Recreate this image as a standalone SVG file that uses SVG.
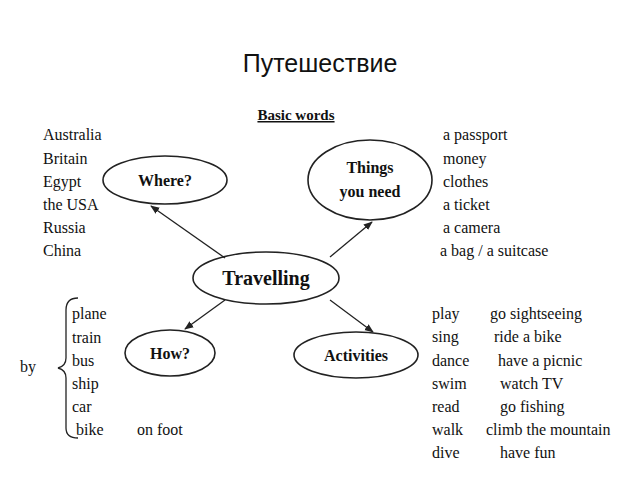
<svg xmlns="http://www.w3.org/2000/svg" width="640" height="480" viewBox="0 0 640 480">
<style>
text{font-family:"Liberation Serif","DejaVu Serif",serif;font-size:16px;fill:#111}
.b{font-weight:bold}
ellipse{fill:#fff;stroke:#222;stroke-width:1.6}
.c line{stroke:#222;stroke-width:1.3;marker-end:url(#a)}
</style>
<defs><marker id="a" viewBox="0 0 10 10" refX="9" refY="5" markerWidth="7" markerHeight="7" orient="auto"><path d="M0,1L10,5L0,9z" fill="#222"/></marker></defs>
<rect width="640" height="480" fill="#fff"/>
<text x="320" y="72" text-anchor="middle" style="font-family:'Liberation Sans',sans-serif;font-size:25px">Путешествие</text>
<text x="296" y="120" text-anchor="middle" class="b" style="font-size:15px;text-decoration:underline">Basic words</text>
<g id="where"><ellipse cx="165" cy="180" rx="62" ry="24"/><text x="165" y="186" text-anchor="middle" class="b">Where?</text></g>
<g id="things"><ellipse cx="370" cy="180" rx="62" ry="40"/><text x="370" y="173" text-anchor="middle" class="b">Things</text><text x="370" y="197" text-anchor="middle" class="b">you need</text></g>
<g id="travelling"><ellipse cx="266" cy="278" rx="73" ry="26"/><text x="266" y="285" text-anchor="middle" class="b" style="font-size:20px">Travelling</text></g>
<g id="how"><ellipse cx="170" cy="353" rx="45" ry="23"/><text x="170" y="359" text-anchor="middle" class="b">How?</text></g>
<g id="activities"><ellipse cx="356" cy="355" rx="62" ry="23"/><text x="356" y="361" text-anchor="middle" class="b">Activities</text></g>
<g class="c">
<line x1="225" y1="258" x2="151" y2="206"/>
<line x1="330" y1="257" x2="372" y2="222"/>
<line x1="225" y1="300" x2="185" y2="329"/>
<line x1="330" y1="300" x2="373" y2="332"/>
</g>
<g id="where-list"><text x="43" y="140">Australia</text><text x="43" y="164">Britain</text><text x="43" y="187">Egypt</text><text x="43" y="210">the USA</text><text x="43" y="233">Russia</text><text x="43" y="256">China</text></g>
<g id="things-list"><text x="443" y="140">a passport</text><text x="443" y="164">money</text><text x="443" y="187">clothes</text><text x="443" y="210">a ticket</text><text x="443" y="233">a camera</text><text x="440" y="256">a bag / a suitcase</text></g>
<g id="how-list">
<path d="M78,298 Q66,298 66,310 L66,358 Q66,366 58,368 Q66,370 66,378 L66,428 Q66,438 78,438" fill="none" stroke="#222" stroke-width="1.3"/>
<text x="20" y="372">by</text>
<text x="72" y="319">plane</text><text x="72" y="343">train</text><text x="72" y="366">bus</text><text x="72" y="389">ship</text><text x="72" y="412">car</text><text x="76" y="435">bike</text><text x="137" y="435">on foot</text></g>
<g id="activities-list">
<text x="432" y="319">play</text><text x="490" y="319">go sightseeing</text>
<text x="432" y="342">sing</text><text x="494" y="342">ride a bike</text>
<text x="432" y="366">dance</text><text x="498" y="366">have a picnic</text>
<text x="432" y="389">swim</text><text x="500" y="389">watch TV</text>
<text x="432" y="412">read</text><text x="500" y="412">go fishing</text>
<text x="432" y="435">walk</text><text x="486" y="435">climb the mountain</text>
<text x="432" y="458">dive</text><text x="500" y="458">have fun</text></g>
</svg>
